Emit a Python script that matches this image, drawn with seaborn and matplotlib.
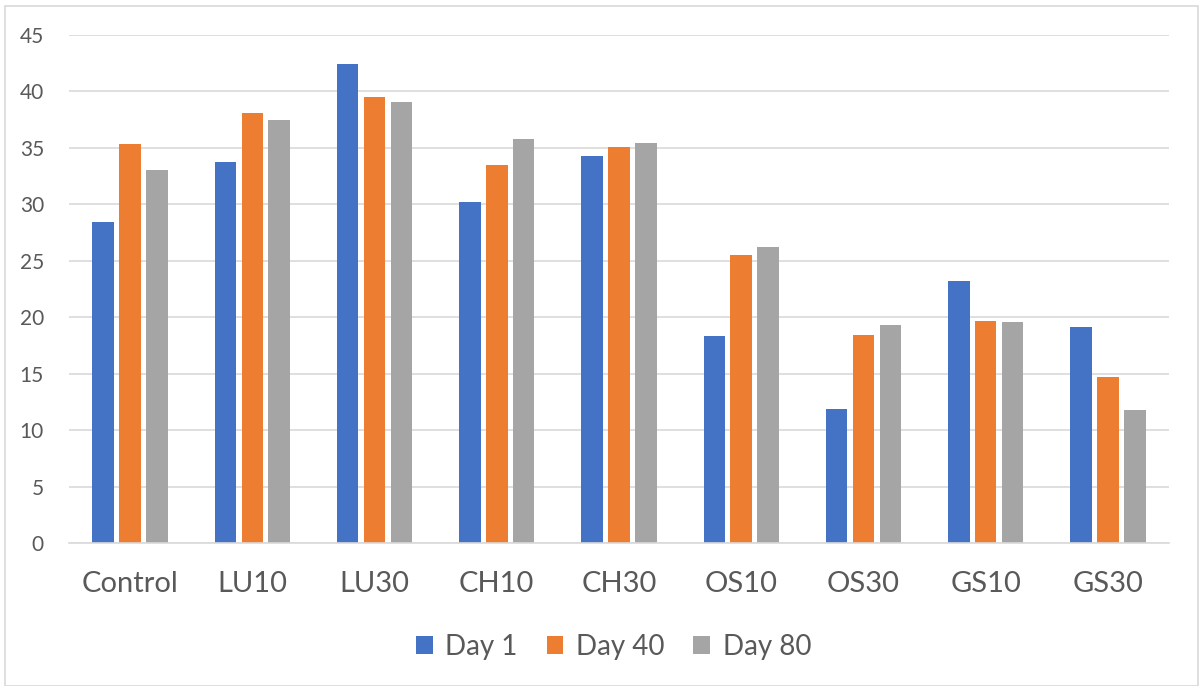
import matplotlib
matplotlib.use("Agg")
import matplotlib.pyplot as plt
import seaborn as sns
import pandas as pd
from matplotlib.patches import Rectangle

categories = ["Control", "LU10", "LU30", "CH10", "CH30", "OS10", "OS30", "GS10", "GS30"]
series_names = ["Day 1", "Day 40", "Day 80"]
day1 = [28.4, 33.75, 42.4, 30.2, 34.25, 18.35, 11.85, 23.25, 19.1]
day40 = [35.35, 38.1, 39.5, 33.5, 35.1, 25.5, 18.4, 19.65, 14.7]
day80 = [33.05, 37.5, 39.1, 35.8, 35.4, 26.2, 19.35, 19.55, 11.75]
colors = ["#4472C4", "#ED7D31", "#A5A5A5"]
yticks = [0, 5, 10, 15, 20, 25, 30, 35, 40, 45]

rows = []
for name, vals in zip(series_names, [day1, day40, day80]):
    for c, v in zip(categories, vals):
        rows.append({"cat": c, "series": name, "value": v})
df = pd.DataFrame(rows)

sns.set_theme(style="white")
plt.rcParams["font.family"] = ["Lato", "DejaVu Sans"]

fig = plt.figure(figsize=(12.03, 6.86), dpi=100)
ax = fig.add_axes([69 / 1203, 1 - 543 / 686, (1169 - 69) / 1203, (543 - 35) / 686])

sns.barplot(data=df, x="cat", y="value", hue="series", order=categories,
            hue_order=series_names, palette=colors, width=0.66, gap=0.2,
            saturation=1, ax=ax, legend=True, linewidth=0)

ax.set_ylim(0, 45)
ax.set_xlim(-0.5, len(categories) - 0.5)
ax.set_yticks(yticks)
ax.set_yticklabels([str(t) for t in yticks])
ax.set_xlabel("")
ax.set_ylabel("")
ax.yaxis.grid(True, color="#d9d9d9", linewidth=1.2)
ax.set_axisbelow(True)
for s in ["top", "right", "left"]:
    ax.spines[s].set_visible(False)
ax.spines["bottom"].set_color("#d9d9d9")
ax.spines["bottom"].set_linewidth(1.2)
ax.tick_params(axis="y", length=0, pad=18, labelsize=15, labelcolor="#595959")
ax.tick_params(axis="x", length=0, pad=20, labelsize=21, labelcolor="#595959")

leg = ax.legend(loc="center", bbox_to_anchor=(0.51, 1 - 647 / 686), bbox_transform=fig.transFigure,
                ncol=3, frameon=False, fontsize=20, handlelength=0.6, handleheight=0.6,
                handletextpad=0.45, columnspacing=1.05)
for t in leg.get_texts():
    t.set_color("#595959")

fig.patches.append(Rectangle((5 / 1203, 0), 1193 / 1203, 1 - 6 / 686, transform=fig.transFigure,
                             fill=False, edgecolor="#d9d9d9", linewidth=1.2))

fig.savefig("out.png", dpi=100, facecolor="white")
